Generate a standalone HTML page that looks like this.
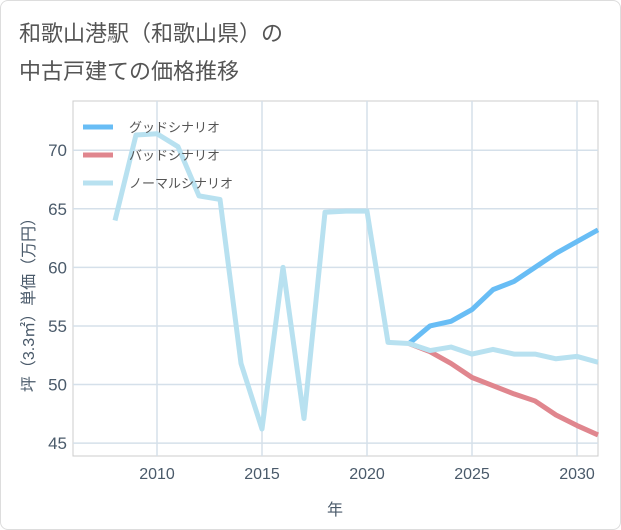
<!DOCTYPE html>
<html><head><meta charset="utf-8"><style>
body{margin:0;background:#fff;font-family:"Liberation Sans","Noto Sans CJK JP",sans-serif;}
#wrap{position:relative;width:621px;height:530px;border:1px solid #ddd;box-sizing:border-box;border-radius:8px;overflow:hidden}
</style></head><body>
<div id="wrap">
<svg id="chart" width="621" height="530"></svg>
</div>
<script>
const years=[2008,2009,2010,2011,2012,2013,2014,2015,2016,2017,2018,2019,2020,2021,2022,2023,2024,2025,2026,2027,2028,2029,2030,2031];
const normal=[64,71.3,71.4,70.3,66.1,65.8,51.8,46.2,60,47.1,64.7,64.8,64.8,53.6,53.5,52.9,53.2,52.6,53.0,52.6,52.6,52.2,52.4,51.9];
const fYears=[2022,2023,2024,2025,2026,2027,2028,2029,2030,2031];
const good=[53.5,55.0,55.4,56.4,58.1,58.8,60.0,61.2,62.2,63.2];
const bad=[53.5,52.8,51.8,50.6,49.9,49.2,48.6,47.4,46.5,45.7];
const xTicks=[2010,2015,2020,2025,2030];
const yTicks=[45,50,55,60,65,70];
const NS='http://www.w3.org/2000/svg',svg=document.getElementById('chart');
const L=72,R=597,T=100,B=455,x0=2006,x1=2031,y0=43.9,y1=74.2;
const X=v=>L+(v-x0)/(x1-x0)*(R-L), Y=v=>B-(v-y0)/(y1-y0)*(B-T);
function el(t,a,p){const e=document.createElementNS(NS,t);for(const k in a)e.setAttribute(k,a[k]);(p||svg).appendChild(e);return e;}
function txt(s,a){const e=el('text',a);e.textContent=s;return e;}
let t=txt('和歌山港駅（和歌山県）の',{x:18,y:40,'font-size':22,fill:'#555'});
t=txt('中古戸建ての価格推移',{x:18,y:78,'font-size':22,fill:'#555'});
el('rect',{x:L,y:T,width:R-L,height:B-T,fill:'none',stroke:'#ccc'});
xTicks.forEach(v=>{let g=el('line',{x1:X(v),x2:X(v),y1:T,y2:B,stroke:'#d5e0ea','stroke-width':1.5});
let l=txt(v,{x:X(v),y:B+23,'font-size':16,fill:'#4a5a6a','text-anchor':'middle'});});
yTicks.forEach(v=>{let g=el('line',{x1:L,x2:R,y1:Y(v),y2:Y(v),stroke:'#d5e0ea','stroke-width':1.5});
let l=txt(v,{x:L-6,y:Y(v)+6,'font-size':17,fill:'#4a5a6a','text-anchor':'end'});});
t=txt('年',{x:334,y:514,'font-size':16,fill:'#4a5a6a','text-anchor':'middle'});
t=txt('坪（3.3㎡）単価（万円）',{x:0,y:0,'font-size':16,fill:'#4a5a6a','text-anchor':'middle',transform:'translate(33,300) rotate(-90)'});
function line(xs,ys,c,n){const p=el('polyline',{points:xs.map((v,i)=>X(v)+','+Y(ys[i])).join(' '),fill:'none',stroke:c,'stroke-width':5,'stroke-linejoin':'round'});}
line(fYears,bad,'#e0868e','bad-scenario-line');
line(fYears,good,'#68bdf5','good-scenario-line');
line(years,normal,'#b8e1f0','normal-scenario-line');
[['グッドシナリオ','#68bdf5'],['バッドシナリオ','#e0868e'],['ノーマルシナリオ','#b8e1f0']].forEach((d,i)=>{const y=126+i*28;
let s=el('line',{x1:82,x2:112,y1:y,y2:y,stroke:d[1],'stroke-width':5});
let l=txt(d[0],{x:128,y:y+5,'font-size':13,fill:'#555'});});
</script></body></html>
